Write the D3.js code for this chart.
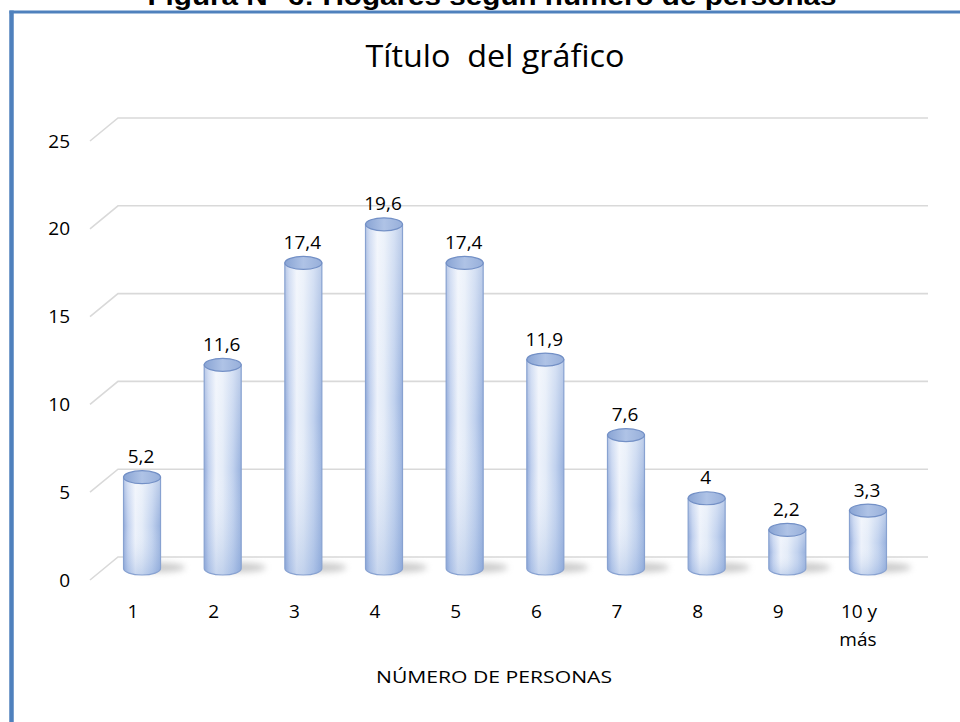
<!DOCTYPE html>
<html><head><meta charset="utf-8">
<script src="https://cdn.jsdelivr.net/npm/d3@7"></script>
<style>html,body{margin:0;padding:0;background:#fff;overflow:hidden}</style>
</head><body>
<svg id="c" width="960" height="722"></svg>
<script>
const categories = ["1","2","3","4","5","6","7","8","9","10 y más"];
const values = [5.2, 11.6, 17.4, 19.6, 17.4, 11.9, 7.6, 4, 2.2, 3.3];
const yTicks = [0, 5, 10, 15, 20, 25];
const header = "Figura N° 6: Hogares según número de personas";
const title = "Título  del gráfico";
const xTitle = "NÚMERO DE PERSONAS";

const svg = d3.select("#c");
const W = 960, H = 722;
const FONT = "'Open Sans', 'Noto Sans', sans-serif";

const esFmt = d3.formatLocale({decimal: ",", thousands: ".", grouping: [3], currency: ["", "€"]}).format("~g");

// 3D geometry
const depthX = 28, depthY = 23;
const yBack = d3.scaleLinear().domain([0, 25]).range([557, 118]);
const yMid = v => yBack(v) + depthY / 2;
const x = d3.scaleBand().domain(categories).range([101.7, 908.3]).padding(0);
const xc = c => x(c) + x.bandwidth() / 2;
const barW = 37, rx = barW / 2, ry = 6.5;

const defs = svg.append("defs");
const gH = defs.append("linearGradient").attr("id", "gBody").attr("x1", 0).attr("x2", 1).attr("y1", 0).attr("y2", 0);
[[0, "#93ABDA"], [0.12, "#C0D0EE"], [0.32, "#EDF2FB"], [0.5, "#E4ECF8"], [0.78, "#C0D1EE"], [1, "#98B1DD"]]
  .forEach(([o, c]) => gH.append("stop").attr("offset", o).attr("stop-color", c));
const gV = defs.append("linearGradient").attr("id", "gShade").attr("x1", 0).attr("x2", 0).attr("y1", 0).attr("y2", 1);
gV.append("stop").attr("offset", 0).attr("stop-color", "#ffffff").attr("stop-opacity", 0.35);
gV.append("stop").attr("offset", 0.5).attr("stop-color", "#ffffff").attr("stop-opacity", 0.0);
gV.append("stop").attr("offset", 1).attr("stop-color", "#6F93D0").attr("stop-opacity", 0.3);
const gTop = defs.append("linearGradient").attr("id", "gTop").attr("x1", 0).attr("x2", 1).attr("y1", 0).attr("y2", 0);
gTop.append("stop").attr("offset", 0).attr("stop-color", "#89A4D4");
gTop.append("stop").attr("offset", 0.5).attr("stop-color", "#AFC3E6");
gTop.append("stop").attr("offset", 1).attr("stop-color", "#97AFDA");
defs.append("filter").attr("id", "blur").attr("x", "-50%").attr("y", "-100%").attr("width", "200%").attr("height", "300%")
  .append("feGaussianBlur").attr("stdDeviation", 3);

// header (partially clipped at the top, as in the reference)
svg.append("text").attr("x", 492).attr("y", 5).attr("text-anchor", "middle")
  .attr("font-family", "'Liberation Sans', Arial, sans-serif").attr("font-weight", "bold")
  .attr("font-size", 25).attr("textLength", 689).attr("lengthAdjust", "spacingAndGlyphs")
  .attr("fill", "#000").text(header);

// frame
svg.append("line").attr("x1", 11.5).attr("x2", 11.5).attr("y1", 10.5).attr("y2", H + 5)
  .attr("stroke", "#4F81BD").attr("stroke-width", 4.5);
svg.append("line").attr("x1", 9.5).attr("x2", W + 5).attr("y1", 12).attr("y2", 12)
  .attr("stroke", "#4F81BD").attr("stroke-width", 3);

// title
svg.append("text").attr("x", 495).attr("y", 67).attr("text-anchor", "middle")
  .attr("font-family", FONT).attr("font-size", 31).attr("textLength", 259).attr("lengthAdjust", "spacingAndGlyphs")
  .attr("fill", "#000").attr("xml:space", "preserve").style("white-space", "pre").text(title);

// gridlines
svg.append("g").selectAll("path").data(yTicks).join("path")
  .attr("d", t => `M90,${yBack(t) + depthY} L${90 + depthX},${yBack(t)} L928,${yBack(t)}`)
  .attr("fill", "none").attr("stroke", "#D9D9D9").attr("stroke-width", 1.6);

// y tick labels
svg.append("g").selectAll("text").data(yTicks).join("text")
  .attr("x", 70).attr("y", t => yBack(t) + depthY).attr("dy", "0.35em")
  .attr("text-anchor", "end").attr("font-family", FONT).attr("font-size", 19).attr("fill", "#000")
  .text(t => t);

// shadows
svg.append("g").selectAll("ellipse").data(categories).join("ellipse")
  .attr("cx", c => xc(c) + 16).attr("cy", yMid(0) - 1).attr("rx", 27).attr("ry", 5)
  .attr("fill", "#9a9a9a").attr("opacity", 0.5).attr("filter", "url(#blur)");

// cylinders
const bars = svg.append("g").selectAll("g").data(categories.map((c, i) => ({c, v: values[i]}))).join("g");
const bodyPath = d => {
  const cx = xc(d.c), yt = yMid(d.v), yb = yMid(0);
  return `M${cx - rx},${yt} L${cx - rx},${yb} A${rx},${ry} 0 0 0 ${cx + rx},${yb} L${cx + rx},${yt} Z`;
};
bars.append("path").attr("d", bodyPath).attr("fill", "url(#gBody)");
bars.append("path").attr("d", bodyPath).attr("fill", "url(#gShade)")
  .attr("stroke", "#88A2D1").attr("stroke-width", 1.2);
bars.append("ellipse").attr("cx", d => xc(d.c)).attr("cy", d => yMid(d.v)).attr("rx", rx).attr("ry", ry)
  .attr("fill", "url(#gTop)").attr("stroke", "#7390C6").attr("stroke-width", 1.2);

// value labels
bars.append("text").attr("x", d => xc(d.c) - 1).attr("y", d => yMid(d.v) - 14)
  .attr("text-anchor", "middle").attr("font-family", FONT).attr("font-size", 19).attr("fill", "#000")
  .text(d => esFmt(d.v));

// category labels
const cat = svg.append("g").selectAll("text").data(categories).join("text")
  .attr("x", c => xc(c) - 9).attr("y", 618)
  .attr("text-anchor", "middle").attr("font-family", FONT).attr("font-size", 19).attr("fill", "#000");
cat.each(function(c) {
  const parts = c === "10 y más" ? ["10 y", "más"] : [c];
  const t = d3.select(this);
  parts.forEach((p, i) => t.append("tspan").attr("x", xc(c) - 9 + (i ? -1 : 0)).attr("dy", i ? 28 : 0).text(p));
});

// axis title
svg.append("text").attr("x", 494).attr("y", 683).attr("text-anchor", "middle")
  .attr("font-family", FONT).attr("font-size", 17).attr("textLength", 236).attr("lengthAdjust", "spacingAndGlyphs")
  .attr("fill", "#000").text(xTitle);
</script>
</body></html>
